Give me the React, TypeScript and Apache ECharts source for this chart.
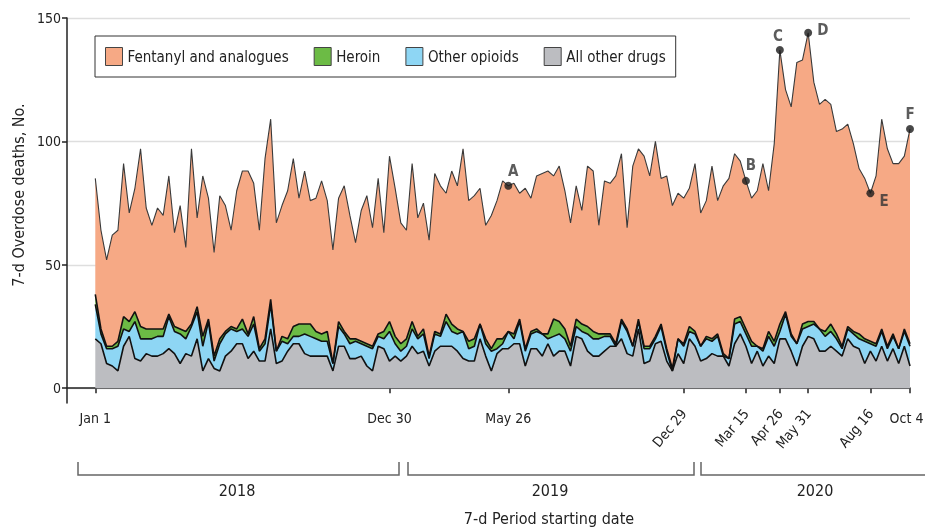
import React, { useEffect, useRef } from 'react';
import * as echarts from 'echarts';

const FONT = '"Liberation Sans Narrow", "DejaVu Sans Condensed", "Roboto", sans-serif';

// weekly values, index 0 = 7-d period starting Jan 1, 2018
const fentanyl = [
  47, 40, 35, 45, 45, 62, 44, 50, 72, 49,
  42, 49, 46, 56, 38, 50, 34, 71, 36, 65,
  49, 42, 58, 51, 39, 56, 60, 66, 54, 48,
  73, 73, 52, 53, 60, 68, 51, 62, 50, 54,
  62, 53, 46, 50, 59, 50, 39, 53, 60, 48,
  63, 40, 67, 60, 49, 44, 64, 48, 51, 47,
  64, 60, 49, 62, 58, 74, 57, 58, 55, 46,
  54, 56, 64, 59, 61, 51, 65, 54, 62, 65,
  66, 58, 63, 56, 50, 54, 46, 65, 65, 44,
  62, 61, 68, 67, 41, 73, 69, 77, 69, 79,
  59, 70, 66, 59, 59, 56, 68, 54, 55, 70,
  54, 68, 73, 67, 63, 60, 58, 63, 75, 57,
  80, 111, 90, 92, 114, 107, 117, 97, 91, 94,
  89, 82, 88, 82, 76, 67, 65, 60, 68, 85,
  80, 69, 75, 70, 87,
];
const heroin = [
  4, 2, 1, 1, 2, 5, 4, 4, 5, 4,
  4, 3, 3, 1, 2, 2, 3, 1, 2, 4,
  1, 2, 2, 1, 1, 1, 4, 1, 3, 1,
  2, 2, 0, 2, 2, 4, 5, 4, 5, 3,
  3, 4, 0, 2, 1, 2, 1, 1, 1, 1,
  1, 3, 4, 3, 3, 3, 3, 1, 2, 1,
  1, 1, 3, 3, 2, 0, 3, 3, 0, 2,
  1, 4, 2, 0, 2, 1, 1, 1, 1, 0,
  2, 7, 5, 4, 2, 3, 3, 3, 3, 2,
  1, 1, 1, 1, 1, 0, 1, 1, 1, 1,
  1, 1, 1, 0, 1, 2, 1, 0, 1, 1,
  1, 1, 0, 2, 2, 2, 2, 0, 1, 2,
  2, 3, 1, 1, 0, 2, 2, 1, 0, 2,
  3, 2, 1, 1, 1, 2, 1, 1, 1, 1,
  1, 1, 0, 1, 1,
];
const otherOpioids = [
  14, 4, 6, 7, 10, 7, 2, 15, 9, 6,
  7, 8, 7, 13, 9, 12, 6, 12, 11, 10,
  15, 3, 11, 9, 9, 5, 6, 9, 11, 4,
  7, 10, 5, 8, 3, 3, 3, 8, 8, 7,
  6, 6, 3, 8, 5, 6, 7, 5, 8, 9,
  4, 4, 12, 5, 4, 4, 7, 6, 7, 3,
  7, 4, 10, 6, 7, 11, 5, 6, 6, 5,
  8, 2, 2, 7, 2, 9, 6, 6, 7, 9,
  2, 8, 7, 5, 6, 4, 3, 7, 7, 7,
  6, 4, 0, 7, 9, 4, 3, 6, 5, 2,
  6, 4, 0, 6, 7, 3, 5, 6, 8, 5,
  8, 0, 3, 8, 5, 5, 7, 2, 6, 8,
  7, 3, 10, 6, 9, 7, 4, 6, 9, 6,
  6, 5, 3, 4, 5, 4, 9, 3, 6, 6,
  5, 5, 6, 6, 8,
];
const allOtherDrugs = [
  20, 18, 10, 9, 7, 17, 21, 12, 11, 14,
  13, 13, 14, 16, 14, 10, 14, 13, 20, 7,
  12, 8, 7, 13, 15, 18, 18, 12, 15, 11,
  11, 24, 10, 11, 15, 18, 18, 14, 13, 13,
  13, 13, 7, 17, 17, 12, 12, 13, 9, 7,
  17, 16, 11, 13, 11, 13, 17, 14, 15, 9,
  15, 17, 17, 17, 15, 12, 11, 11, 20, 13,
  7, 14, 16, 16, 18, 18, 9, 16, 16, 13,
  18, 13, 15, 15, 9, 21, 20, 15, 13, 13,
  15, 17, 17, 20, 14, 13, 24, 10, 11, 18,
  19, 11, 7, 14, 10, 20, 17, 11, 12, 14,
  13, 13, 9, 18, 22, 17, 10, 15, 9, 13,
  10, 20, 20, 15, 9, 17, 21, 20, 15, 15,
  17, 15, 13, 20, 17, 16, 10, 15, 11, 17,
  11, 16, 10, 17, 9,
];

const seriesNames = ['Fentanyl and analogues', 'Heroin', 'Other opioids', 'All other drugs'];
const seriesColors = ['#F6A985', '#6CBB45', '#8ED6F4', '#BCBDC1'];

const tickIndices = [0, 52, 73, 104, 115, 121, 126, 137, 144];
const tickLabels = ['Jan 1', 'Dec 30', 'May 26', 'Dec 29', 'Mar 15', 'Apr 26', 'May 31', 'Aug 16', 'Oct 4'];
const flatTicks = [0, 52, 73, 144];
const rotatedTicks = [104, 115, 121, 126, 137];
const yTicks = [0, 50, 100, 150];
const years = ['2018', '2019', '2020'];
const annotIdx = [73, 115, 121, 126, 137, 144];
const annotLabels = ['A', 'B', 'C', 'D', 'E', 'F'];

const PAD = 5; // empty slots left of Jan 1 (axis starts before the first week)

export default function App() {
  const ref = useRef<HTMLDivElement>(null);
  useEffect(() => {
    if (!ref.current) return;
    const chart = echarts.init(ref.current, undefined, { renderer: 'svg' });
    const n = fentanyl.length;
    const categories: string[] = [];
    for (let k = 0; k < PAD + n; k++) {
      const t = tickIndices.indexOf(k - PAD);
      categories.push(t >= 0 ? tickLabels[t] : 'w' + (k - PAD));
    }
    const lastLabel = tickLabels[tickLabels.length - 1];
    const padArr = (arr: number[]) => [...Array(PAD).fill('-'), ...arr];
    const stackOrder = [
      { name: seriesNames[3], data: allOtherDrugs, color: seriesColors[3], line: '#111', w: 1.6 },
      { name: seriesNames[2], data: otherOpioids, color: seriesColors[2], line: '#111', w: 1.6 },
      { name: seriesNames[1], data: heroin, color: seriesColors[1], line: '#111', w: 1.6 },
      { name: seriesNames[0], data: fentanyl, color: seriesColors[0], line: '#3a3a3a', w: 1.1 },
    ];
    const total = (i: number) => fentanyl[i] + heroin[i] + otherOpioids[i] + allOtherDrugs[i];
    const annotPlace: any[] = [
      { position: 'top', offset: [5, 2] },
      { position: 'top', offset: [5, 1] },
      { position: 'top', offset: [-2, 2] },
      { position: 'right', offset: [0, -3] },
      { position: 'right', offset: [0, 8] },
      { position: 'top', offset: [0, 1] },
    ];
    const textStyle = { fontFamily: FONT, fontSize: 14, color: '#222' };
    const brackets = [
      [78, 399],
      [408, 694],
      [701, 930],
    ];
    const yearCenters = [237, 550, 815];
    const inSet = (set: number[]) => (idx: number) => set.indexOf(idx - PAD) >= 0;

    chart.setOption({
      animation: false,
      textStyle: { fontFamily: FONT },
      grid: { left: 67, right: 15, top: 18, bottom: 126, containLabel: false, outerBoundsMode: 'none' },
      legend: {
        left: 95,
        top: 36,
        padding: [11, 10, 11, 10],
        borderColor: '#333',
        borderWidth: 1,
        itemWidth: 17,
        itemHeight: 18,
        itemGap: 25,
        icon: 'rect',
        textStyle: { ...textStyle, fontSize: 15 },
        data: seriesNames.map((nm, k) => ({
          name: nm,
          icon: 'rect',
          itemStyle: { color: seriesColors[k], borderColor: '#444', borderWidth: 1 },
        })),
      },
      xAxis: [
        {
          type: 'category',
          data: categories,
          boundaryGap: false,
          axisLine: { show: true, lineStyle: { color: '#222', width: 1.5 } },
          axisTick: { show: true, length: 5, interval: inSet(tickIndices), lineStyle: { color: '#222', width: 1.5 } },
          axisLabel: {
            interval: inSet(flatTicks),
            margin: 8,
            ...textStyle,
            formatter: (v: string) => (v === lastLabel ? '{e|' + v + '}' : v),
            rich: { e: { fontFamily: FONT, fontSize: 14, color: '#222', padding: [0, 7, 0, 0] } },
          },
          splitLine: { show: false },
        },
        {
          type: 'category',
          data: categories,
          boundaryGap: false,
          position: 'bottom',
          axisLine: { show: false },
          axisTick: { show: false },
          axisLabel: { interval: inSet(rotatedTicks), rotate: 50, margin: 8, ...textStyle },
          splitLine: { show: false },
        },
      ],
      yAxis: {
        type: 'value',
        min: -6,
        max: 150,
        axisLine: { show: true, lineStyle: { color: '#222', width: 1.5 } },
        axisTick: { show: true, length: 5, customValues: yTicks, lineStyle: { color: '#222', width: 1.5 } },
        axisLabel: { customValues: yTicks, margin: 6, ...textStyle },
        splitLine: { show: true, lineStyle: { color: '#dedede', width: 1.3 } },
      },
      series: [
        ...stackOrder.map((s) => ({
          name: s.name,
          type: 'line',
          stack: 'total',
          xAxisIndex: 0,
          yAxisIndex: 0,
          symbol: 'none',
          showSymbol: false,
          itemStyle: { color: s.color },
          lineStyle: { color: s.line, width: s.w },
          areaStyle: { color: s.color, opacity: 1 },
          data: padArr(s.data),
        })),
        {
          name: 'annotations',
          type: 'scatter',
          xAxisIndex: 0,
          yAxisIndex: 0,
          symbolSize: 8,
          z: 10,
          itemStyle: { color: '#1a1a1a' },
          label: { show: true, fontFamily: FONT, fontSize: 15, color: '#333', fontWeight: 'bold' },
          data: annotIdx.map((i, k) => ({
            value: [PAD + i, total(i)],
            label: { formatter: annotLabels[k], ...annotPlace[k] },
          })),
        },
      ],
      graphic: [
        ...brackets.map(([a, b]) => ({
          type: 'polyline',
          shape: { points: [[a, 462], [a, 475], [b, 475], [b, 462]] },
          style: { stroke: '#666', lineWidth: 1.5, fill: null },
        })),
        ...years.map((y, k) => ({
          type: 'text',
          x: yearCenters[k],
          y: 490,
          style: { text: y, fontFamily: FONT, fontSize: 16, fill: '#222', textAlign: 'center', textVerticalAlign: 'middle' },
        })),
        {
          type: 'text',
          x: 549,
          y: 518,
          style: { text: '7-d Period starting date', fontFamily: FONT, fontSize: 16, fill: '#222', textAlign: 'center', textVerticalAlign: 'middle' },
        },
        {
          type: 'text',
          x: 18,
          y: 195,
          rotation: Math.PI / 2,
          style: { text: '7-d Overdose deaths, No.', fontFamily: FONT, fontSize: 16, fill: '#222', textAlign: 'center', textVerticalAlign: 'middle' },
        },
      ],
    });
    return () => chart.dispose();
  }, []);
  return <div ref={ref} style={{ position: 'fixed', left: 0, top: 0, width: 925, height: 529 }} />;
}
